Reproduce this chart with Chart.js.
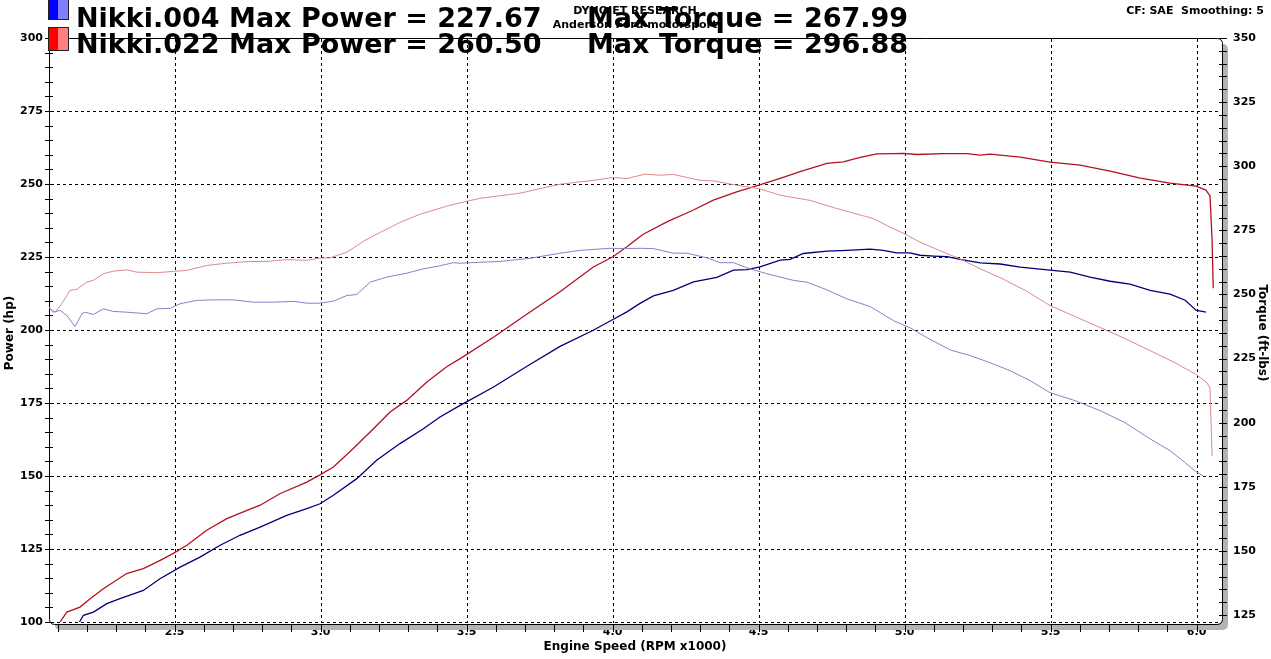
<!DOCTYPE html>
<html><head><meta charset="utf-8">
<script src="https://cdn.jsdelivr.net/npm/chart.js@4"></script>
<style>html,body{margin:0;padding:0;background:#fff;overflow:hidden}#wrap{width:1271px;height:659px;position:relative}canvas{display:block}</style>
</head><body><div id="wrap"><canvas id="c" width="1271" height="659"></canvas></div>
<script>
// ---- tick labels ----
const rpmTicks = [2.5, 3.0, 3.5, 4.0, 4.5, 5.0, 5.5, 6.0];
const hpTicks = [100, 125, 150, 175, 200, 225, 250, 275, 300];
const tqTicks = [125, 150, 175, 200, 225, 250, 275, 300, 325, 350];

// ---- Nikki.004 (blue) ----
const blueHpRpm = [2.171,2.188,2.222,2.268,2.313,2.393,2.450,2.519,2.587,2.656,2.724,2.793,2.884,2.953,2.998,3.044,3.124,3.192,3.272,3.352,3.409,3.478,3.591,3.707,3.820,3.934,4.001,4.049,4.094,4.140,4.208,4.277,4.357,4.414,4.460,4.505,4.574,4.608,4.653,4.734,4.802,4.882,4.927,4.973,5.019,5.053,5.100,5.146,5.190,5.259,5.327,5.396,5.498,5.567,5.635,5.704,5.772,5.841,5.909,5.961,5.998,6.032];
const blueHp = [99.4,102.3,103.4,106.3,108.0,110.8,114.8,118.8,122.2,126.3,129.7,132.5,136.5,138.8,140.5,143.4,149.1,155.4,161.1,166.2,170.2,174.2,180.4,187.6,194.4,199.9,203.6,206.2,209.1,211.7,213.6,216.5,218.0,220.5,220.7,221.6,223.9,224.2,226.2,227.0,227.3,227.7,227.3,226.4,226.4,225.6,225.3,225.1,224.2,223.0,222.6,221.5,220.5,219.8,218.1,216.7,215.7,213.6,212.3,210.2,206.8,206.1];
const blueTqRpm = [2.068,2.085,2.108,2.131,2.159,2.183,2.194,2.222,2.256,2.290,2.336,2.405,2.439,2.485,2.519,2.576,2.633,2.701,2.770,2.838,2.907,2.953,2.998,3.044,3.090,3.124,3.170,3.227,3.295,3.352,3.409,3.455,3.478,3.615,3.717,3.820,3.889,3.991,4.049,4.094,4.140,4.208,4.254,4.323,4.368,4.414,4.460,4.528,4.619,4.665,4.734,4.802,4.882,4.962,5.019,5.076,5.156,5.224,5.293,5.361,5.430,5.498,5.584,5.670,5.755,5.841,5.909,5.961,5.998,6.022];
const blueTq = [245.3,243.1,243.8,241.8,237.5,242.5,243.1,242.2,244.4,243.4,243.1,242.5,244.4,244.6,246.4,247.7,247.9,247.9,247.0,247.0,247.3,246.6,246.6,247.4,249.6,250.0,254.8,256.8,258.3,260.0,261.2,262.4,262.2,262.9,264.1,266.1,267.2,268.0,267.9,268.0,267.9,266.1,266.1,264.3,262.4,262.4,260.4,258.1,255.5,254.8,251.8,248.3,245.3,239.8,237.0,233.2,228.4,226.2,223.4,220.3,216.4,211.7,208.6,204.7,200.0,193.7,189.1,184.4,180.9,179.3];

// ---- Nikki.022 (red) ----
const redHpRpm = [2.108,2.131,2.176,2.211,2.256,2.336,2.393,2.451,2.496,2.542,2.610,2.679,2.748,2.793,2.862,2.953,2.998,3.044,3.112,3.181,3.238,3.295,3.364,3.432,3.478,3.592,3.706,3.820,3.934,4.001,4.049,4.105,4.186,4.277,4.345,4.425,4.501,4.574,4.642,4.734,4.790,4.848,4.905,4.962,4.996,5.042,5.133,5.213,5.259,5.293,5.396,5.498,5.601,5.704,5.807,5.909,5.998,6.032,6.046,6.053,6.057];
const redHp = [100.0,103.4,105.1,108.0,111.4,116.6,118.3,121.1,123.5,126.3,131.4,135.4,138.2,140.0,144.0,147.9,150.4,153.1,159.4,166.2,171.9,175.9,182.2,187.4,190.2,197.5,205.4,213.1,221.6,225.1,228.5,232.8,237.0,241.1,244.5,247.3,249.6,251.9,254.2,257.1,257.6,259.1,260.3,260.4,260.5,260.1,260.4,260.4,259.9,260.2,259.2,257.5,256.5,254.4,252.0,250.3,249.3,247.9,245.9,230.8,214.3];
const redTqRpm = [2.068,2.091,2.114,2.142,2.165,2.199,2.222,2.256,2.291,2.336,2.371,2.439,2.496,2.542,2.610,2.679,2.748,2.816,2.884,2.953,2.998,3.033,3.090,3.152,3.204,3.272,3.341,3.443,3.546,3.683,3.820,3.934,4.001,4.049,4.111,4.163,4.208,4.300,4.345,4.425,4.501,4.574,4.676,4.756,4.813,4.893,4.939,4.999,5.053,5.133,5.190,5.259,5.327,5.413,5.498,5.584,5.670,5.755,5.841,5.926,5.998,6.036,6.046,6.053];
const redTq = [245.0,243.1,246.5,251.6,252.0,254.8,255.5,258.1,259.1,259.6,258.7,258.5,259.0,259.4,261.3,262.2,262.8,262.9,263.6,263.3,264.2,264.3,266.5,271.1,274.2,278.1,281.3,284.8,287.5,289.5,293.0,294.5,295.6,295.2,296.9,296.5,296.8,294.5,294.3,292.6,291.3,288.7,286.7,283.9,282.1,279.6,276.9,273.7,270.4,266.5,263.9,260.0,256.6,251.6,245.7,241.4,237.1,232.8,228.1,223.4,218.8,215.6,213.3,187.1];

const FONT = "'DejaVu Sans', Verdana, sans-serif";
const pts = (xs, ys) => xs.map((x, i) => ({x: x, y: ys[i]}));

const decor = {
  id: 'decor',
  beforeDatasetsDraw(chart) {
    const {ctx, chartArea: a, scales} = chart;
    const L = a.left, T = a.top, R = a.right, B = a.bottom + 2;
    const rr = (x, y, w, h, r) => { ctx.beginPath(); ctx.roundRect(x, y, w, h, r); };
    ctx.save();
    // shadow
    ctx.fillStyle = '#b4b4b4';
    rr(L + 6, T + 6, R - L, B - T, 5); ctx.fill();
    ctx.fillStyle = '#fff';
    rr(L, T, R - L, B - T, 5); ctx.fill();
    // dashed grid
    ctx.strokeStyle = '#000'; ctx.lineWidth = 1; ctx.setLineDash([3, 3]);
    hpTicks.forEach(v => {
      if (v === 300) return;
      const y = Math.round(scales.hp.getPixelForValue(v)) + 0.5;
      ctx.beginPath(); ctx.moveTo(L + 2, y); ctx.lineTo(R - 3, y); ctx.stroke();
    });
    rpmTicks.forEach(v => {
      const x = Math.round(scales.x.getPixelForValue(v)) + 0.5;
      ctx.beginPath(); ctx.moveTo(x, T + 1); ctx.lineTo(x, B - 1); ctx.stroke();
    });
    ctx.setLineDash([]);
    // frame
    rr(L + 0.5, T + 0.5, R - L, B - T, 5); ctx.stroke();
    // minor/major ticks
    ctx.beginPath();
    for (let v = 100; v <= 300; v += 5) {
      const y = Math.round(scales.hp.getPixelForValue(v)) + 0.5;
      ctx.moveTo(L - 4, y); ctx.lineTo(L + 4, y);
    }
    for (let k = 21; k <= 60; k++) {
      const x = Math.round(scales.x.getPixelForValue(k / 10)) + 0.5;
      ctx.moveTo(x, B); ctx.lineTo(x, B + 8);
    }
    for (let v = 125; v <= 350; v += 5) {
      const y = Math.round(scales.tq.getPixelForValue(v)) + 0.5;
      ctx.moveTo(R - 3, y); ctx.lineTo(R + 5, y);
    }
    ctx.stroke();
    ctx.restore();
  },
  afterDraw(chart) {
    const {ctx} = chart;
    ctx.save();
    ctx.fillStyle = '#000';
    // small header text
    ctx.font = "bold 11px " + FONT;
    ctx.textAlign = 'center'; ctx.textBaseline = 'alphabetic';
    ctx.fillText('DYNOJET RESEARCH', 635, 14);
    ctx.fillText('Anderson Ford motorsport', 635, 28);
    ctx.textAlign = 'right';
    ctx.fillText('CF: SAE  Smoothing: 5', 1264, 14);
    // legend boxes
    const box = (y, c1, c2) => {
      ctx.fillStyle = c1; ctx.fillRect(48, y, 10, 24);
      ctx.fillStyle = c2; ctx.fillRect(58, y, 10, 24);
      ctx.strokeStyle = '#222'; ctx.lineWidth = 1; ctx.strokeRect(48.5, y + 0.5, 20, 23);
    };
    box(-4, '#0000ff', '#8080ff');
    box(27, '#ff0000', '#ff8080');
    // big titles
    ctx.fillStyle = '#000';
    ctx.font = "bold 27px " + FONT;
    ctx.textAlign = 'left';
    ctx.fillText('Nikki.004 Max Power = 227.67', 76, 27);
    ctx.fillText('Max Torque = 267.99', 587, 27);
    ctx.fillText('Nikki.022 Max Power = 260.50', 76, 53);
    ctx.fillText('Max Torque = 296.88', 587, 53);
    // axis titles
    ctx.font = "bold 12px " + FONT;
    ctx.textAlign = 'center'; ctx.textBaseline = 'middle';
    ctx.fillText('Engine Speed (RPM x1000)', 635, 647);
    ctx.save(); ctx.translate(10, 333); ctx.rotate(-Math.PI / 2);
    ctx.fillText('Power (hp)', 0, 0); ctx.restore();
    ctx.save(); ctx.translate(1262, 333); ctx.rotate(Math.PI / 2);
    ctx.fillText('Torque (ft-lbs)', 0, 0); ctx.restore();
    ctx.restore();
  }
};

const tickFont = {family: FONT, weight: 'bold', size: 11};

new Chart(document.getElementById('c'), {
  type: 'line',
  data: {
    datasets: [
      {label: 'Nikki.004 Torque', data: pts(blueTqRpm, blueTq), yAxisID: 'tq', borderColor: '#8484c8', borderWidth: 1},
      {label: 'Nikki.022 Torque', data: pts(redTqRpm, redTq), yAxisID: 'tq', borderColor: '#dc8c8c', borderWidth: 1},
      {label: 'Nikki.004 Power', data: pts(blueHpRpm, blueHp), yAxisID: 'hp', borderColor: '#00007a', borderWidth: 1.3},
      {label: 'Nikki.022 Power', data: pts(redHpRpm, redHp), yAxisID: 'hp', borderColor: '#b41020', borderWidth: 1.3}
    ]
  },
  options: {
    responsive: false, animation: false, devicePixelRatio: 1,
    layout: {padding: {top: 38, left: 0, right: 0, bottom: 0}},
    plugins: {legend: {display: false}, title: {display: false}, tooltip: {enabled: false}},
    elements: {point: {radius: 0}, line: {tension: 0, fill: false}},
    scales: {
      x: {
        type: 'linear', min: 2.07, max: 6.087,
        grid: {display: false, drawTicks: false}, border: {display: false},
        afterBuildTicks: s => { s.ticks = rpmTicks.map(v => ({value: v})); },
        afterFit: s => { s.height = 37; },
        ticks: {callback: v => Number(v).toFixed(1), font: tickFont, color: '#000', padding: 4, maxRotation: 0, autoSkip: false}
      },
      hp: {
        type: 'linear', position: 'left', min: 100, max: 300,
        grid: {display: false, drawTicks: false}, border: {display: false},
        afterBuildTicks: s => { s.ticks = hpTicks.map(v => ({value: v})); },
        afterFit: s => { s.width = 49; },
        ticks: {font: tickFont, color: '#000', padding: 6, autoSkip: false}
      },
      tq: {
        type: 'linear', position: 'right', min: 122.3, max: 350,
        grid: {display: false, drawTicks: false}, border: {display: false},
        afterBuildTicks: s => { s.ticks = tqTicks.map(v => ({value: v})); },
        afterFit: s => { s.width = 49; },
        ticks: {font: tickFont, color: '#000', padding: 11, autoSkip: false}
      }
    }
  },
  plugins: [decor]
});
</script>
</body></html>
